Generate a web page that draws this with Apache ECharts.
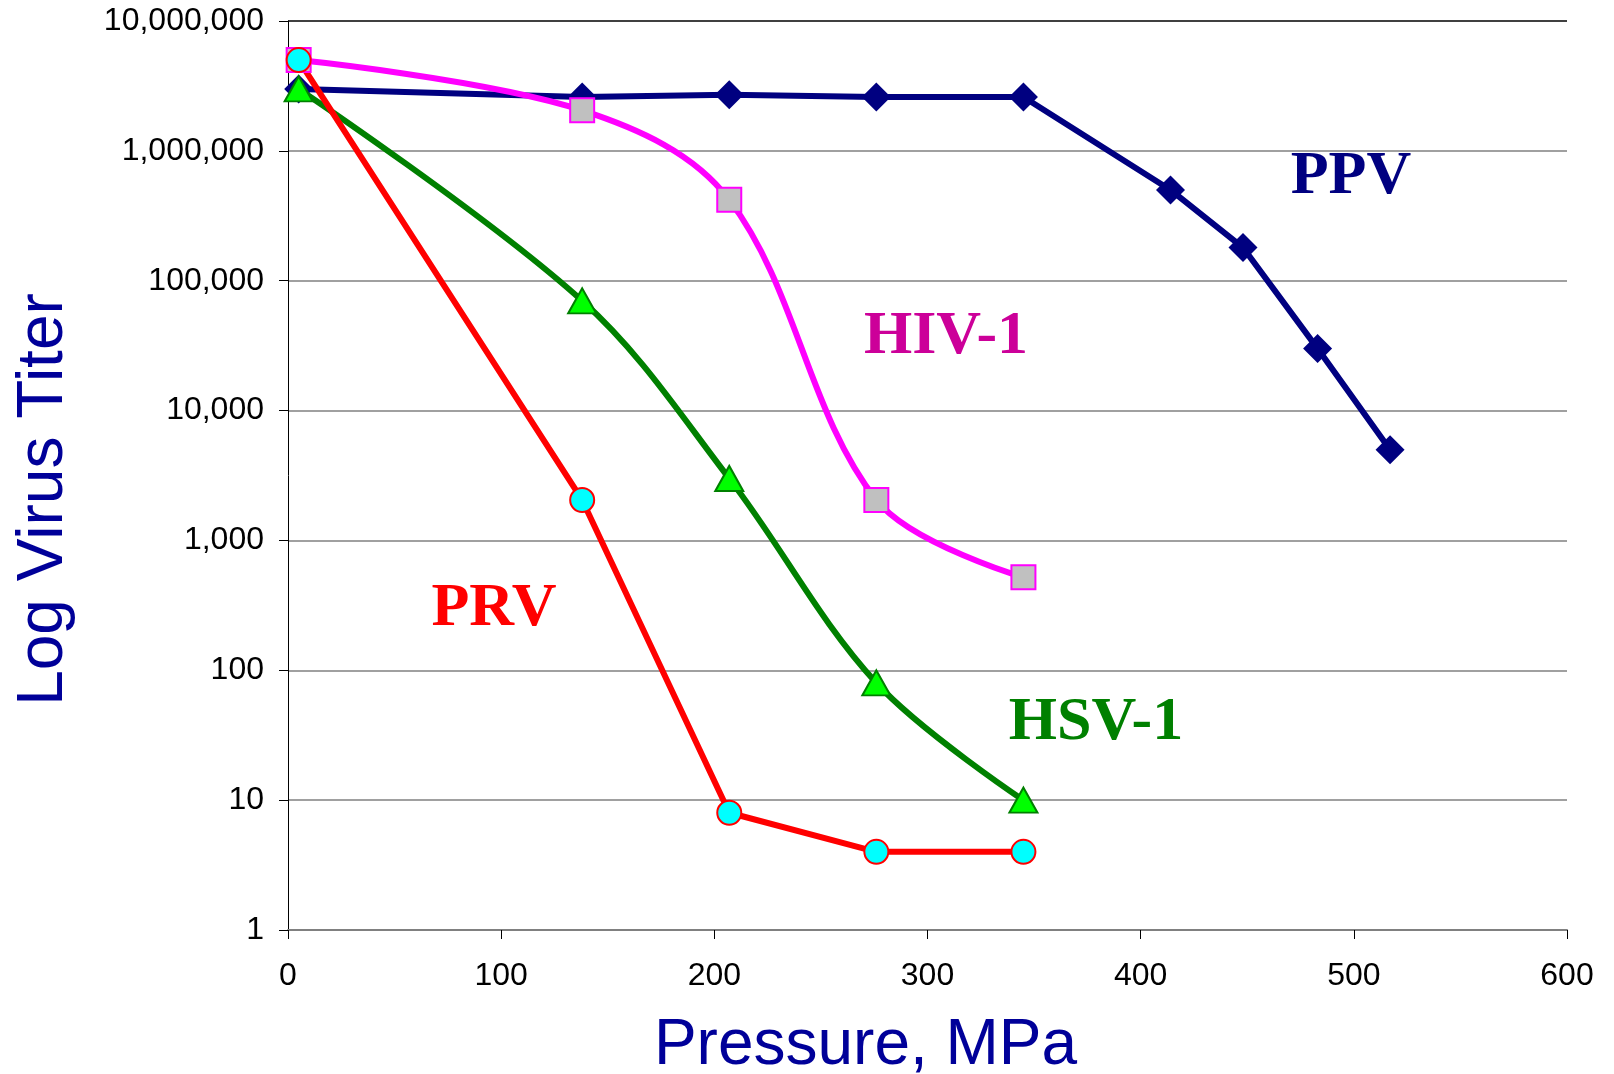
<!DOCTYPE html>
<html>
<head>
  <meta charset="utf-8">
  <title>Log Virus Titer vs Pressure</title>
  <style>
    html, body { margin: 0; padding: 0; background: #fff; }
    #main { width: 1614px; height: 1074px; }
  </style>
</head>
<body>
<div id="main"></div>
<script src="https://cdn.jsdelivr.net/npm/echarts@6.0.0/dist/echarts.min.js"></script>
<script>
  // pressure points, MPa
  var pressure = [5, 138, 207, 276, 345];
  var pressurePPV = [5, 138, 207, 276, 345, 414, 448, 483, 517];

  // virus titers
  var ppv = [3000000, 2600000, 2700000, 2600000, 2600000, 500000, 180000, 30000, 5000];
  var hiv = [5000000, 2050000, 420000, 2050, 520];
  var hsv = [3000000, 70000, 3000, 80, 10];
  var prv = [5000000, 2050, 8, 4, 4];

  var yTicks = [1, 10, 100, 1000, 10000, 100000, 1000000, 10000000];

  function pairs(xs, ys) {
    return ys.map(function (v, i) { return [xs[i], v]; });
  }

  var axisBlue = '#000099';

  var myChart = echarts.init(document.getElementById('main'));
  myChart.setOption({
    animation: false,
    grid: { left: 288, right: 47, top: 21, bottom: 144, outerBoundsMode: 'none' },
    xAxis: {
      type: 'value',
      min: 0,
      max: 600,
      interval: 100,
      name: 'Pressure, MPa',
      nameLocation: 'middle',
      nameGap: 84,
      nameTextStyle: {
        color: axisBlue, fontSize: 64, fontFamily: 'Liberation Sans',
        padding: [0, 124, 0, 0]
      },
      axisLine: { lineStyle: { color: '#808080', width: 2 } },
      axisTick: { length: 9, lineStyle: { color: '#000', width: 1 } },
      axisLabel: { color: '#000', fontSize: 32, fontFamily: 'Liberation Sans', margin: 30 },
      splitLine: { show: false }
    },
    yAxis: {
      type: 'log',
      logBase: 10,
      min: yTicks[0],
      max: yTicks[yTicks.length - 1],
      name: 'Log Virus Titer',
      nameLocation: 'middle',
      nameGap: 212,
      nameTextStyle: {
        color: axisBlue, fontSize: 64, fontFamily: 'Liberation Sans',
        padding: [0, 48, 0, 0]
      },
      axisLine: { show: true, lineStyle: { color: '#000', width: 1 } },
      axisTick: { length: 9, lineStyle: { color: '#000', width: 1 } },
      axisLabel: {
        color: '#000', fontSize: 32, fontFamily: 'Liberation Sans', margin: 24,
        formatter: function (v) { return Math.round(v).toLocaleString('en-US'); }
      },
      splitLine: {
        show: true,
        lineStyle: {
          color: ['#808080', '#808080', '#808080', '#808080', '#808080', '#808080', '#808080', '#000'],
          width: 1.5
        }
      },
      minorTick: { show: false }
    },
    series: [
      {
        name: 'PPV', type: 'line',
        data: pairs(pressurePPV, ppv),
        symbol: 'diamond', symbolSize: 29,
        lineStyle: { color: '#000080', width: 6 },
        itemStyle: { color: '#000080', borderColor: '#000080', borderWidth: 0 }
      },
      {
        name: 'HIV-1', type: 'line',
        data: pairs(pressure, hiv),
        smooth: 0.35,
        symbol: 'rect', symbolSize: 24,
        lineStyle: { color: '#FF00FF', width: 6 },
        itemStyle: { color: '#C0C0C0', borderColor: '#FF00FF', borderWidth: 2 }
      },
      {
        name: 'HSV-1', type: 'line',
        data: pairs(pressure, hsv),
        smooth: 0.35,
        symbol: 'triangle', symbolSize: [28, 25],
        lineStyle: { color: '#008000', width: 6 },
        itemStyle: { color: '#00FF00', borderColor: '#008000', borderWidth: 2 }
      },
      {
        name: 'PRV', type: 'line',
        data: pairs(pressure, prv),
        symbol: 'circle', symbolSize: 24,
        lineStyle: { color: '#FF0000', width: 6 },
        itemStyle: { color: '#00FFFF', borderColor: '#FF0000', borderWidth: 2 }
      }
    ],
    graphic: [
      { type: 'text', x: 1351, y: 177, style: { text: 'PPV', fill: '#000080', font: 'bold 62px "Liberation Serif"', textAlign: 'center', textVerticalAlign: 'middle' } },
      { type: 'text', x: 946, y: 337, style: { text: 'HIV-1', fill: '#CC0099', font: 'bold 62px "Liberation Serif"', textAlign: 'center', textVerticalAlign: 'middle' } },
      { type: 'text', x: 494, y: 609, style: { text: 'PRV', fill: '#FF0000', font: 'bold 62px "Liberation Serif"', textAlign: 'center', textVerticalAlign: 'middle' } },
      { type: 'text', x: 1096, y: 723, style: { text: 'HSV-1', fill: '#008000', font: 'bold 62px "Liberation Serif"', textAlign: 'center', textVerticalAlign: 'middle' } }
    ]
  });
</script>
</body>
</html>
